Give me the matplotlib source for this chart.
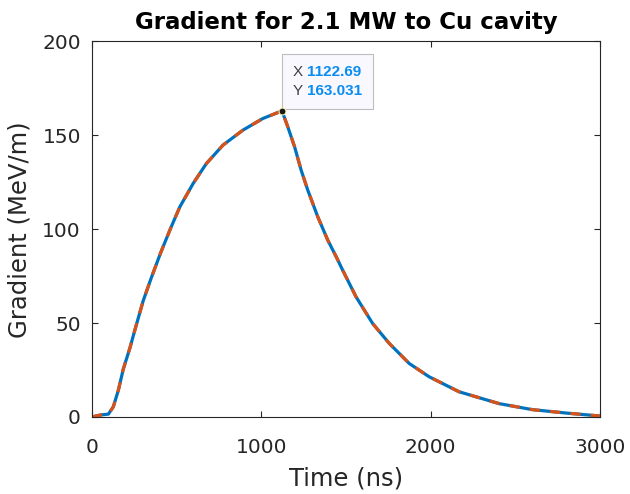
import matplotlib
matplotlib.use("Agg")
import matplotlib.pyplot as plt
from matplotlib.offsetbox import TextArea, HPacker, VPacker, AnnotationBbox

# values
time_ns = [0, 48, 97, 126, 156, 185, 225, 254, 303, 352, 406, 460, 519, 598,
           676, 774, 892, 1010, 1122.69, 1157, 1197, 1236, 1275, 1334, 1393,
           1443, 1481, 1560, 1658, 1757, 1874, 1992, 2169, 2405, 2601, 2798,
           3000]
gradient = [0, 1.0, 1.5, 5.4, 14.3, 25.5, 37.0, 46.5, 62.0, 74.5, 87.5, 99.5,
            111.9, 124.4, 135.0, 144.8, 152.8, 159.0, 163.031, 154.5, 143.9,
            131.4, 120.8, 106.6, 94.2, 85.3, 78.2, 64.0, 49.8, 39.1, 28.5,
            21.4, 13.4, 7.1, 3.9, 2.1, 0.5]

tip_x = 1122.69
tip_y = 163.031
tip_x_label = "1122.69"
tip_y_label = "163.031"

x_ticks = [0, 1000, 2000, 3000]
y_ticks = [0, 50, 100, 150, 200]

plt.rcParams['font.family'] = ['DejaVu Sans']
txt_col = '#262626'

fig = plt.figure(figsize=(6.3, 4.94), dpi=100)
ax = fig.add_axes([0.146, 0.156, 0.806, 0.760])

# blue solid line with orange dashed line on top
ax.plot(time_ns, gradient, color='#0072BD', linewidth=2.3, solid_capstyle='butt')
ax.plot(time_ns, gradient, color='#D95319', linewidth=2.3, linestyle=(0, (3.2, 3.2)))

ax.set_xlim(0, 3000)
ax.set_ylim(0, 200)
ax.set_xticks(x_ticks)
ax.set_yticks(y_ticks)
ax.tick_params(direction='in', length=4, width=0.8, colors=txt_col,
               labelsize=14.5, top=True, right=True)
ax.tick_params(axis='x', pad=15)
ax.tick_params(axis='y', pad=8)
for sp in ax.spines.values():
    sp.set_color(txt_col)
    sp.set_linewidth(0.8)

ax.set_xlabel('Time (ns)', fontsize=17.5, color=txt_col, labelpad=7)
ax.set_ylabel('Gradient (MeV/m)', fontsize=17.5, color=txt_col, labelpad=8)
ax.set_title('Gradient for 2.1 MW to Cu cavity', fontsize=16.5,
             fontweight='bold', color='black', pad=9)

# datatip
ax.plot([tip_x], [tip_y], marker='o', markersize=5, color='#1a1a1a',
        markeredgecolor='#f3efb0', markeredgewidth=0.8, zorder=5)

tip_font = ['Liberation Sans', 'DejaVu Sans']

def row(name, value):
    a = TextArea(name, textprops=dict(color='#404040', fontsize=11,
                                      family=tip_font))
    b = TextArea(value, textprops=dict(color='#0A8CF0', fontsize=11,
                                       fontweight='bold', family=tip_font))
    return HPacker(children=[a, b], align='baseline', pad=0, sep=3.5)

box = VPacker(children=[row('X', tip_x_label), row('Y', tip_y_label)],
              align='left', pad=0, sep=4)
ab = AnnotationBbox(box, (tip_x, tip_y), xybox=(7.5, 9.2),
                    xycoords='data', boxcoords='offset points',
                    box_alignment=(0, 0), frameon=True, pad=0.75,
                    bboxprops=dict(facecolor='#F8F8FE', edgecolor='#BDBDBD',
                                   linewidth=0.8))
ax.add_artist(ab)

fig.savefig('out.png', dpi=100)
